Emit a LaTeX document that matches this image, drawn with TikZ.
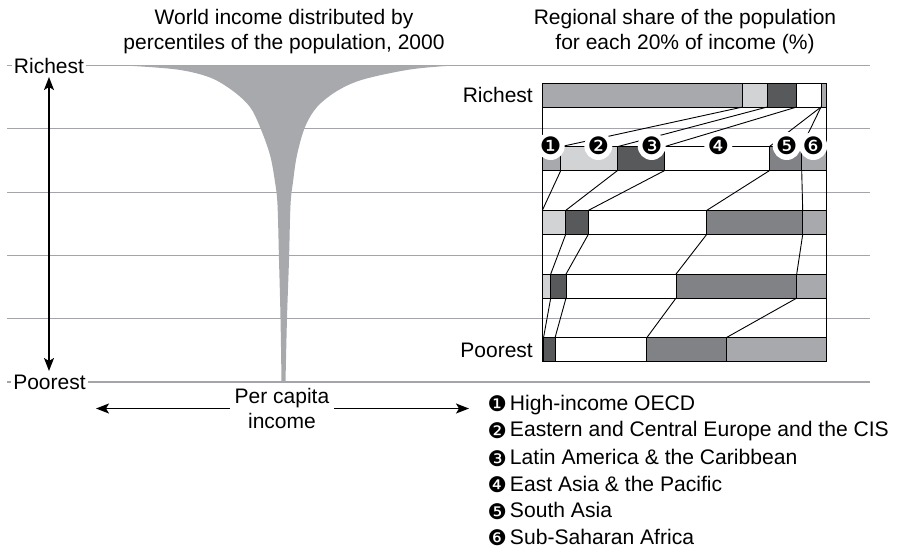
\documentclass[tikz,border=0pt]{standalone}
\usepackage{fontspec}
\setmainfont{Liberation Sans}
\newfontfamily\dvfont{DejaVu Sans}
\usetikzlibrary{arrows.meta}
\definecolor{cA}{HTML}{A7A9AC}
\definecolor{cB}{HTML}{D1D3D4}
\definecolor{cC}{HTML}{58595B}
\definecolor{cD}{HTML}{808285}
\definecolor{gridc}{HTML}{A3A5A8}
\newcommand{\cnum}[1]{{\dvfont\fontsize{24}{24}\selectfont #1}}
\newcommand{\lnum}[1]{\raisebox{-1.2pt}{{\dvfont\fontsize{21.5}{21.5}\selectfont #1}}}
\begin{document}
\begin{tikzpicture}[x=1pt,y=-1pt,
  font=\fontsize{21}{25}\selectfont,
  gridline/.style={draw=gridc, line width=1.2pt},
  barseg/.style={draw=black, line width=1pt},
  conn/.style={draw=black, line width=0.9pt},
  arr/.style={line width=1.5pt, -{Stealth[length=13pt,width=10pt,inset=3pt]}},
  dbl/.style={line width=1.5pt, {Stealth[length=13pt,width=10pt,inset=3pt]}-{Stealth[length=13pt,width=10pt,inset=3pt]}},
  sidelabel/.style={fill=white, inner xsep=2pt, inner ysep=0pt},
  circnum/.style={circle, fill=white, inner sep=0pt},
  legend/.style={anchor=west, inner sep=0pt, font=\fontsize{21.1}{25}\selectfont},
  title/.style={align=center, inner sep=0pt}]
\useasboundingbox (0,0) rectangle (901,550);

% grid lines
\foreach \yy in {65.5,128.8,192.1,255.4,318.7,382}
  \draw[gridline] (7,\yy) -- (870,\yy);

% funnel
\fill[cA] plot[smooth, tension=0.55] coordinates {(125,65.5) (177,69.5) (210,77.5) (233,91) (250,107) (260,127) (270,155) (275,182) (277.5,205) (279,260) (280.5,318) (281.5,382)}
  -- plot[smooth, tension=0.55] coordinates {(285.5,382) (287,318) (289,260) (290.5,205) (293,182) (297,155) (305,127) (317,107) (337,91) (363,79.5) (410,69.5) (453,65.5)}
  -- cycle;

% titles
\node[title] (t1) at (284,32) {World income distributed by\\percentiles of the population, 2000};
\node[title] (t2) at (685,32) {Regional share of the population\\for each 20\% of income (\%)};

% left labels and arrow
\node[sidelabel] (rl) at (49,65.5) {Richest};
\node[sidelabel] (pl) at (49.5,382) {Poorest};
\coordinate (vt) at (49,77);
\coordinate (vb) at (49,371);
\draw[dbl] (vt) -- (vb);

% per capita income
\node[title, inner xsep=5pt] (pc) at (282,408.5) {Per capita\\income};
\coordinate (hl) at (96,408.5);
\coordinate (hr) at (469,408.5);
\draw[arr] (pc.west) -- (hl);
\draw[arr] (pc.east) -- (hr);

% bars
\foreach \n/\t/\xs in {1/83/{542.3,742.7,767.3,796.7,821,821,826},
                       2/146.7/{542.3,560.7,617.3,664.3,769.3,801.7,826},
                       3/210.4/{542.3,542.3,565.7,588.3,706.7,802.7,826},
                       4/274.1/{542.3,542.3,550.7,566,676,796.7,826},
                       5/337.8/{542.3,542.3,543.5,555,646.7,726,826}}{
  \foreach \x [count=\j from 0] in \xs {
    \coordinate (b\n-\j-t) at (\x,\t);
    \coordinate (b\n-\j-b) at (\x,\t+24);
  }
}
\foreach \n in {1,...,5}{
  \foreach \c [count=\j from 1] in {cA,cB,cC,white,cD,cA}{
    \pgfmathtruncatemacro\i{\j-1}
    \filldraw[barseg, fill=\c] (b\n-\i-t) rectangle (b\n-\j-b);
  }
}
% connectors
\foreach \k/\m in {1/2,2/3,3/4,4/5}
  \foreach \j in {1,...,5}
    \draw[conn] (b\k-\j-b) -- (b\m-\j-t);
% frame
\draw[barseg] (b1-0-t) rectangle (b5-6-b);

% numbers on bar 2
\node[circnum] (c1) at (550.7,146) {\cnum{❶}};
\node[circnum] (c2) at (598.3,146) {\cnum{❷}};
\node[circnum] (c3) at (651.7,146) {\cnum{❸}};
\node[circnum] (c4) at (718.3,146) {\cnum{❹}};
\node[circnum] (c5) at (786.7,146) {\cnum{❺}};
\node[circnum] (c6) at (813.3,146) {\cnum{❻}};

% right labels
\node[anchor=east, inner sep=0pt] (rr) at (533,95) {Richest};
\node[anchor=east, inner sep=0pt] (pr) at (533,350) {Poorest};

% legend
\node[legend] (l1) at (487.5,405) {\lnum{❶}\hspace{3pt}High-income OECD};
\node[legend] (l2) at (487.5,431.5) {\lnum{❷}\hspace{3pt}Eastern and Central Europe and the CIS};
\node[legend] (l3) at (487.5,458) {\lnum{❸}\hspace{3pt}Latin America \& the Caribbean};
\node[legend] (l4) at (487.5,484.5) {\lnum{❹}\hspace{3pt}East Asia \& the Pacific};
\node[legend] (l5) at (487.5,511) {\lnum{❺}\hspace{3pt}South Asia};
\node[legend] (l6) at (487.5,537.5) {\lnum{❻}\hspace{3pt}Sub-Saharan Africa};
\end{tikzpicture}
\end{document}
